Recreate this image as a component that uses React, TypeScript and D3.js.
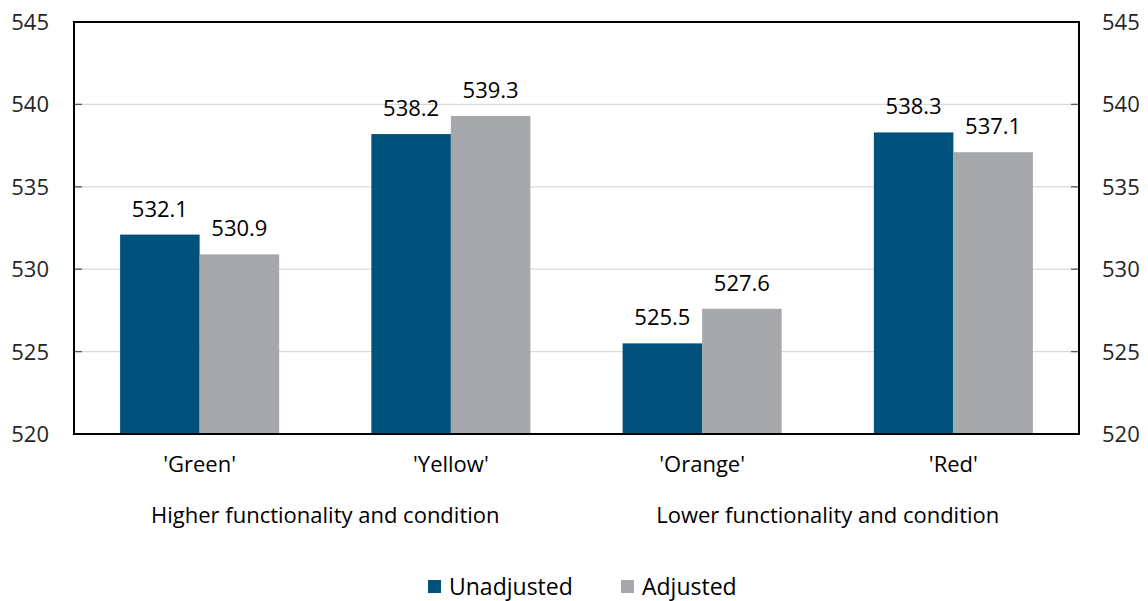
import { useEffect, useRef } from "react";
import * as d3 from "d3";

const categories = ["'Green'", "'Yellow'", "'Orange'", "'Red'"];
const groupLabels = ["Higher functionality and condition", "Lower functionality and condition"];
const seriesNames = ["Unadjusted", "Adjusted"];
const unadjusted = [532.1, 538.2, 525.5, 538.3];
const adjusted = [530.9, 539.3, 527.6, 537.1];
const yTicks = [520, 525, 530, 535, 540, 545];

const colors = ["#00527d", "#a7a8ab"];
const FONT = "'Open Sans', 'Noto Sans', sans-serif";

export const App = () => {
  const chartRef = useRef<HTMLDivElement>(null);
  const width = 1148;
  const height = 601;
  const left = 74;
  const right = 1079;
  const top = 22;
  const bottom = 434;

  useEffect(() => {
    d3.select(chartRef.current).select("svg").remove();

    const svg = d3
      .select(chartRef.current)
      .append("svg")
      .attr("width", width)
      .attr("height", height)
      .style("display", "block")
      .style("font-family", FONT);

    const x = d3.scaleBand<string>().domain(categories).range([left, right]).paddingInner(0.367).paddingOuter(0.1835);
    const x1 = d3.scaleBand<string>().domain(seriesNames).range([0, x.bandwidth()]);
    const y = d3.scaleLinear().domain([520, 545]).range([bottom, top]);

    // gridlines
    svg
      .selectAll(".grid")
      .data(yTicks.slice(1, -1))
      .enter()
      .append("line")
      .attr("x1", left)
      .attr("x2", right)
      .attr("y1", (d) => y(d))
      .attr("y2", (d) => y(d))
      .attr("stroke", "#d9d9d9")
      .attr("stroke-width", 1.3);

    // small inner ticks on both sides
    yTicks.slice(1, -1).forEach((t) => {
      svg.append("line").attr("x1", left).attr("x2", left + 8).attr("y1", y(t)).attr("y2", y(t)).attr("stroke", "#595959").attr("stroke-width", 1.3);
      svg.append("line").attr("x1", right - 8).attr("x2", right).attr("y1", y(t)).attr("y2", y(t)).attr("stroke", "#595959").attr("stroke-width", 1.3);
    });

    const data = categories.map((c, i) => ({ cat: c, values: [unadjusted[i], adjusted[i]] }));

    const groups = svg
      .selectAll(".grp")
      .data(data)
      .enter()
      .append("g")
      .attr("transform", (d) => `translate(${x(d.cat)},0)`);

    groups
      .selectAll("rect")
      .data((d) => d.values.map((v, j) => ({ v, s: seriesNames[j], j })))
      .enter()
      .append("rect")
      .attr("x", (d) => x1(d.s) as number)
      .attr("width", x1.bandwidth())
      .attr("y", (d) => y(d.v))
      .attr("height", (d) => bottom - y(d.v))
      .attr("fill", (d) => colors[d.j]);

    groups
      .selectAll("text")
      .data((d) => d.values.map((v, j) => ({ v, s: seriesNames[j] })))
      .enter()
      .append("text")
      .attr("x", (d) => (x1(d.s) as number) + x1.bandwidth() / 2)
      .attr("y", (d) => y(d.v) - 18)
      .attr("text-anchor", "middle")
      .attr("font-size", 22)
      .attr("fill", "#000")
      .text((d) => d.v.toFixed(1));

    // frame
    svg
      .append("rect")
      .attr("x", left)
      .attr("y", top)
      .attr("width", right - left)
      .attr("height", bottom - top)
      .attr("fill", "none")
      .attr("stroke", "#000")
      .attr("stroke-width", 2);

    // y tick labels
    yTicks.forEach((t) => {
      svg.append("text").attr("x", 49).attr("y", y(t) + 8).attr("text-anchor", "end").attr("font-size", 22).attr("fill", "#262626").text(t);
      svg.append("text").attr("x", 1102).attr("y", y(t) + 8).attr("text-anchor", "start").attr("font-size", 22).attr("fill", "#262626").text(t);
    });

    // category labels
    svg
      .selectAll(".cat")
      .data(categories)
      .enter()
      .append("text")
      .attr("x", (d) => (x(d) as number) + x.bandwidth() / 2)
      .attr("y", 472)
      .attr("text-anchor", "middle")
      .attr("font-size", 22)
      .attr("fill", "#000")
      .text((d) => d);

    // group labels
    groupLabels.forEach((g, i) => {
      const a = x(categories[i * 2]) as number;
      const b = (x(categories[i * 2 + 1]) as number) + x.bandwidth();
      svg.append("text").attr("x", (a + b) / 2).attr("y", 523).attr("text-anchor", "middle").attr("font-size", 22).attr("fill", "#000").text(g);
    });

    // legend
    const legendX = [428, 621];
    seriesNames.forEach((s, i) => {
      svg.append("rect").attr("x", legendX[i]).attr("y", 580).attr("width", 13).attr("height", 13).attr("fill", colors[i]);
      svg.append("text").attr("x", legendX[i] + 21).attr("y", 595).attr("font-size", 23).attr("fill", "#000").text(s);
    });
  }, []);

  return <div ref={chartRef} style={{ position: "absolute", left: 0, top: 0 }} />;
};

export default App;
